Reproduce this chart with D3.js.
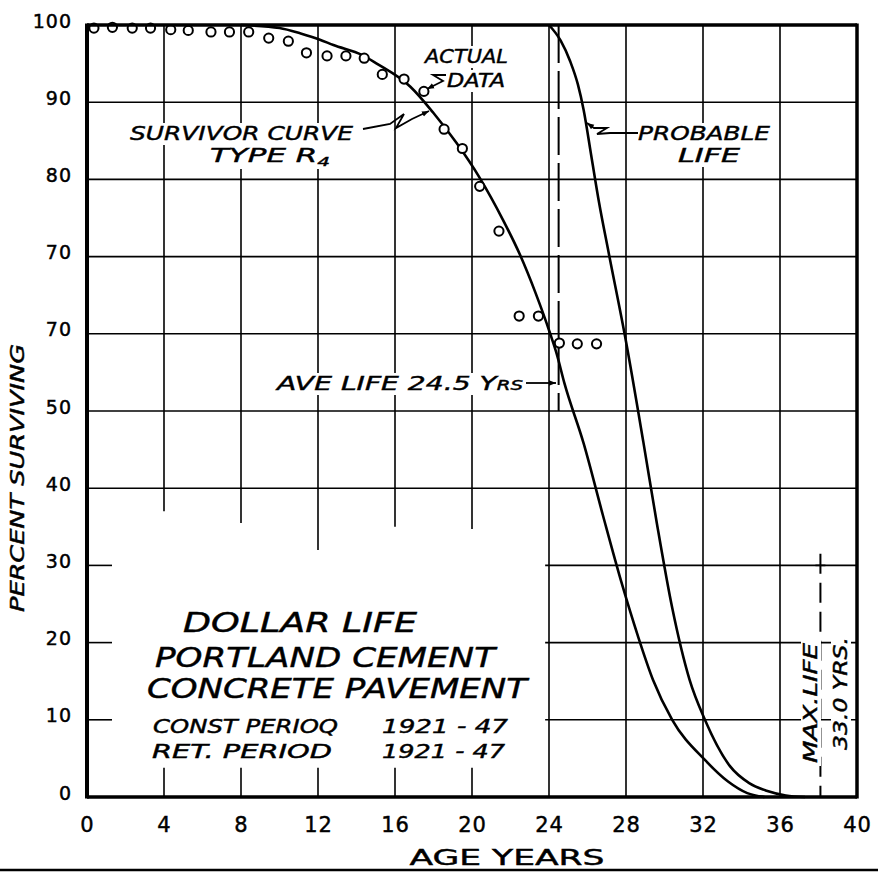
<!DOCTYPE html>
<html><head><meta charset="utf-8">
<script src="https://cdn.jsdelivr.net/npm/d3@7"></script>
<style>
html,body{margin:0;padding:0;background:#fff;}
svg{display:block;}
text{font-family:"DejaVu Sans",sans-serif;fill:#000;stroke:#000;stroke-width:0.45px;}
</style></head>
<body><svg id="c" width="878" height="872"></svg>
<script>
// ---- data ----
const xTicks = [0,4,8,12,16,20,24,28,32,36,40];
const xTickLabels = ["0","4","8","12","16","20","24","28","32","36","40"];
const yTicks = [0,10,20,30,40,50,60,70,80,90,100];
const yTickLabels = ["0","10","20","30","40","50","70","70","80","90","100"];

const actualAge = [0.36,1.32,2.35,3.3,4.35,5.26,6.44,7.4,8.4,9.44,10.46,11.4,12.47,13.45,14.4,15.34,16.47,17.5,18.55,19.5,20.4,21.4,22.45,23.45,24.54,25.47,26.47];
const actualPct = [99.6,99.7,99.6,99.6,99.4,99.3,99.1,99.1,99.1,98.3,97.9,96.4,96.0,96.0,95.7,93.6,93.0,91.4,86.5,84.0,79.1,73.3,62.3,62.3,58.8,58.7,58.7];

const survAge = [8,10,11.1,12.1,12.8,14.3,15.05,16.8,18.0,19.2,20.4,21.6,22.5,23.3,24.05,24.4,24.8,25.8,26.8,27.8,28.6,29.4,30.4,32.1,33.3,34.3,35.2];
const survPct = [100,99.6,98.9,98.1,97.4,96.1,95.0,92.0,88.6,84.7,80.2,74.8,70.2,65.3,60.1,57.4,53.6,45.8,36.5,27.5,21,15.2,10,4.8,2.0,0.5,0];

const probAge = [24,24.6,25.1,25.5,25.8,26.2,26.6,27.1,28.0,28.9,29.6,30.4,31.3,32.1,33.4,34.4,35.3,36.3,37.3];
const probPct = [100,98,95.3,92.3,89,83,77,70.5,59,46,35.5,24.5,15.2,10,4,1.8,0.8,0.2,0];

const aveLife = 24.5;
const maxLifeLineAge = 38.1;

// ---- drawing ----
const svg = d3.select("#c");
const x = d3.scaleLinear().domain([0,40]).range([87,857]);
const y = d3.scaleLinear().domain([0,100]).range([797,25]);

svg.append("rect").attr("width",878).attr("height",872).attr("fill","#fff");

const defs = svg.append("defs");
defs.append("marker").attr("id","ah").attr("viewBox","0 0 10 10").attr("refX",10).attr("refY",5)
  .attr("markerWidth",7).attr("markerHeight",7).attr("markerUnits","userSpaceOnUse").attr("orient","auto")
  .append("path").attr("d","M0,1 L10,5 L0,9 z").attr("fill","#000");

const grid = svg.append("g").attr("stroke","#000").attr("stroke-width",1.6).attr("fill","none");
[40,50,60,70,80,90].forEach(v=>{
  grid.append("line").attr("x1",x(0)).attr("x2",x(40)).attr("y1",y(v)).attr("y2",y(v));
});
[10,20,30].forEach(v=>{
  grid.append("line").attr("x1",x(23.8)).attr("x2",x(40)).attr("y1",y(v)).attr("y2",y(v));
  grid.append("line").attr("x1",x(0)).attr("x2",x(1.3)).attr("y1",y(v)).attr("y2",y(v));
});
const vStop = {4:37,8:35.5,12:32,16:35,20:34.7};
[4,8,12,16,20].forEach(v=>{
  grid.append("line").attr("x1",x(v)).attr("x2",x(v)).attr("y1",y(100)).attr("y2",y(vStop[v]));
  grid.append("line").attr("x1",x(v)).attr("x2",x(v)).attr("y1",y(0)).attr("y2",y(3.8));
});
[24,28,32,36].forEach(v=>{
  grid.append("line").attr("x1",x(v)).attr("x2",x(v)).attr("y1",y(100)).attr("y2",y(0));
});

svg.append("line").attr("x1",x(aveLife)).attr("x2",x(aveLife)).attr("y1",y(100)).attr("y2",y(50))
  .attr("stroke","#000").attr("stroke-width",2).attr("stroke-dasharray","38,8");
svg.append("line").attr("x1",x(maxLifeLineAge)).attr("x2",x(maxLifeLineAge)).attr("y1",y(31.5)).attr("y2",y(0))
  .attr("stroke","#000").attr("stroke-width",2).attr("stroke-dasharray","20,9");
svg.append("line").attr("x1",x(maxLifeLineAge)-5).attr("x2",x(maxLifeLineAge)+5).attr("y1",y(30)).attr("y2",y(30))
  .attr("stroke","#000").attr("stroke-width",1.6);

const labels = svg.append("g");
function lab(str, x0, yb, size, width, opts={}){
  const g = labels.append("g");
  if(opts.rotate){ g.attr("transform",`translate(${x0},${yb}) rotate(-90)`); x0=0; yb=0; }
  const t = g.append("text").attr("x",x0).attr("y",yb).attr("font-size",size)
    .attr("font-style",opts.upright?"normal":"italic");
  if(opts.anchor) t.attr("text-anchor",opts.anchor);
  if(opts.parts){
    opts.parts.forEach(p=>{
      const ts=t.append("tspan").text(p.t);
      if(p.size) ts.attr("font-size",p.size);
      if(p.dy) ts.attr("dy",p.dy);
    });
  } else t.text(str);
  if(width) t.attr("textLength",width).attr("lengthAdjust","spacingAndGlyphs");
  if(opts.bg){
    const b = t.node().getBBox();
    g.insert("rect","text").attr("x",b.x-3).attr("y",b.y+2).attr("width",b.width+6).attr("height",b.height-2).attr("fill","#fff");
  }
  return t;
}

lab("SURVIVOR CURVE",130,140,20,223,{bg:true});
lab(null,210,162,20,120,{bg:true,parts:[{t:"TYPE R"},{t:"4",size:13,dy:4}]});
lab("ACTUAL",425,63,20,83,{bg:true});
lab("DATA",447,87,20,58,{bg:true});
lab("PROBABLE",638,140,20,132,{bg:true});
lab("LIFE",678,162,20,62,{bg:true});
lab(null,277,390,20,246,{bg:true,parts:[{t:"AVE LIFE  24.5 Y"},{t:"RS",size:14}]});
lab("DOLLAR LIFE",183,632,27,234);
lab("PORTLAND CEMENT",155,667,27,340);
lab("CONCRETE PAVEMENT",147,698,27,380);
lab("CONST PERIOQ",153,733,19,185);
lab("1921 - 47",382,733,19,126);
lab("RET.  PERIOD",152,758,19,180);
lab("1921 - 47",382,758,19,123);
lab("MAX.LIFE",817,763,19,120,{rotate:true,bg:true});
lab("33.0 YRS.",847,750,19,113,{rotate:true,bg:true});
lab("PERCENT SURVIVING",24,612,19,268,{rotate:true});
lab("AGE YEARS",507,865,22,195,{upright:true,anchor:"middle"});

const arr = svg.append("g").attr("fill","none").attr("stroke","#000").attr("stroke-width",1.8);
arr.append("path").attr("d","M363,129 L390,124 L404,114 L396,128 L412,119 L429,111").attr("marker-end","url(#ah)");
arr.append("path").attr("d","M446,75 L433,75 L443,81 L427,89").attr("marker-end","url(#ah)");
arr.append("path").attr("d","M638,133 L610,133 L597,134 L607,128 L594,128 L587,123").attr("marker-end","url(#ah)");
arr.append("path").attr("d","M526,383 L556,383").attr("marker-end","url(#ah)");

const line = d3.line().x(d=>x(d[0])).y(d=>y(d[1])).curve(d3.curveMonotoneX);
svg.append("path").datum(d3.zip(survAge,survPct)).attr("d",line)
  .attr("fill","none").attr("stroke","#000").attr("stroke-width",2.6);
svg.append("path").datum(d3.zip(probAge,probPct)).attr("d",line)
  .attr("fill","none").attr("stroke","#000").attr("stroke-width",2.6);

svg.append("g").selectAll("circle").data(d3.zip(actualAge,actualPct)).join("circle")
  .attr("cx",d=>x(d[0])).attr("cy",d=>y(d[1])).attr("r",4.6)
  .attr("fill","#fff").attr("stroke","#000").attr("stroke-width",2);

const ax = svg.append("g").attr("transform",`translate(0,${y(0)})`)
  .call(d3.axisBottom(x).tickValues(xTicks).tickFormat((d,i)=>xTickLabels[i]).tickSize(0));
ax.select(".domain").remove();
ax.selectAll("text").attr("y",35).attr("dy",0).attr("font-size",21).attr("font-family","DejaVu Sans").attr("letter-spacing",1);
const ay = svg.append("g").attr("transform",`translate(${x(0)},0)`)
  .call(d3.axisLeft(y).tickValues(yTicks).tickFormat((d,i)=>yTickLabels[i]).tickSize(0).tickPadding(15));
ay.select(".domain").remove();
ay.selectAll("text").attr("dy",0).attr("y",2).attr("font-size",19).attr("font-family","DejaVu Sans").attr("letter-spacing",1);

const fr = svg.append("g").attr("stroke","#000").attr("fill","none");
fr.append("line").attr("x1",x(0)).attr("x2",x(40)).attr("y1",y(100)).attr("y2",y(100)).attr("stroke-width",3.5);
fr.append("line").attr("x1",x(0)).attr("x2",x(40)).attr("y1",y(0)).attr("y2",y(0)).attr("stroke-width",3.5);
fr.append("line").attr("x1",x(0)).attr("x2",x(0)).attr("y1",y(100)-1.5).attr("y2",y(0)+1.5).attr("stroke-width",4);
fr.append("line").attr("x1",x(40)).attr("x2",x(40)).attr("y1",y(100)-1.5).attr("y2",y(0)+1.5).attr("stroke-width",3.5);
svg.append("line").attr("x1",0).attr("x2",878).attr("y1",870).attr("y2",870).attr("stroke","#000").attr("stroke-width",2.5);
</script></body></html>
